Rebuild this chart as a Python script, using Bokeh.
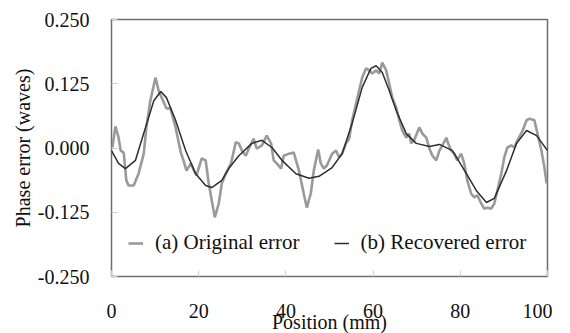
from bokeh.plotting import figure
from bokeh.models import FixedTicker, PrintfTickFormatter, Range1d, Legend, LegendItem
from bokeh.embed import file_html
from bokeh.resources import INLINE

orig_x = [0.2, 0.9, 1.6, 2.1, 2.8, 3.4, 3.9, 5.1, 6.2, 7.4, 8.0, 8.9, 10.1, 10.8, 11.5, 12.6, 13.5, 14.7, 15.9, 16.5,
          17.2, 18.2, 18.9, 19.5, 20.7, 21.6, 22.3, 23.7, 24.6, 25.3, 26.2, 27.4, 28.5, 29.2, 29.9, 30.8, 31.5, 32.6,
          33.3, 34.5, 35.6, 36.6, 37.2, 37.9, 38.9, 39.5, 40.7, 41.8, 43.0, 44.1, 44.8, 45.7, 46.4, 47.4, 48.0, 48.7,
          49.4, 50.6, 51.5, 52.2, 52.9, 53.8, 54.5, 55.2, 56.1, 56.8, 57.5, 58.4, 59.1, 59.8, 60.7, 61.4, 62.1, 63.0,
          63.7, 64.4, 65.3, 66.0, 66.7, 67.6, 68.3, 68.7, 69.4, 70.6, 71.3, 72.2, 72.9, 73.6, 74.5, 75.2, 75.9, 76.8,
          77.2, 77.9, 78.6, 79.3, 80.2, 80.9, 81.6, 82.5, 83.2, 83.9, 84.8, 85.5, 86.2, 87.1, 87.8, 88.5, 89.4, 90.1,
          90.8, 91.7, 92.4, 93.1, 94.3, 95.2, 95.9, 97.0, 97.7, 98.6, 99.3, 99.8]
orig_y = [0.001, 0.042, 0.021, -0.005, -0.009, -0.063, -0.073, -0.073, -0.050, -0.011, 0.040, 0.092, 0.137, 0.112,
          0.098, 0.077, 0.077, 0.040, -0.009, -0.024, -0.044, -0.030, -0.044, -0.053, -0.020, -0.024, -0.069, -0.135,
          -0.108, -0.069, -0.050, -0.030, 0.011, 0.009, -0.005, -0.015, -0.001, 0.018, -0.001, 0.005, 0.024, 0.009,
          -0.024, -0.030, -0.040, -0.015, -0.011, -0.009, -0.044, -0.089, -0.116, -0.089, -0.044, -0.003, -0.030,
          -0.040, -0.034, -0.011, -0.005, -0.018, -0.011, 0.009, 0.018, 0.054, 0.087, 0.112, 0.137, 0.155, 0.151,
          0.145, 0.151, 0.145, 0.166, 0.151, 0.125, 0.098, 0.079, 0.054, 0.034, 0.020, 0.028, 0.009, 0.015, 0.040,
          0.028, 0.020, -0.001, -0.015, -0.024, -0.005, 0.005, 0.020, 0.009, -0.005, -0.011, -0.024, -0.011, -0.030,
          -0.063, -0.089, -0.096, -0.092, -0.108, -0.118, -0.116, -0.118, -0.108, -0.083, -0.050, -0.018, 0.001,
          0.005, 0.001, 0.015, 0.034, 0.054, 0.057, 0.054, 0.028, -0.005, -0.038, -0.069]

rec_x = [0, 1.6, 3.2, 5.5, 7.8, 9.7, 11.3, 12.6, 14.7, 17.0, 19.3, 21.6, 23.0, 25.3, 26.9, 29.2, 32.2, 34.5, 36.8,
         39.1, 42.3, 45.3, 47.6, 50.6, 52.9, 55.2, 57.5, 59.5, 60.7, 62.1, 63.7, 65.3, 67.6, 69.9, 72.9, 75.2, 78.2,
         81.4, 83.7, 86.0, 87.8, 90.6, 92.9, 95.2, 97.5, 100]
rec_y = [-0.005, -0.030, -0.040, -0.024, 0.040, 0.092, 0.110, 0.098, 0.054, -0.005, -0.050, -0.073, -0.077, -0.063,
         -0.040, -0.015, 0.009, 0.015, 0.001, -0.024, -0.050, -0.059, -0.055, -0.038, -0.011, 0.048, 0.118, 0.155,
         0.160, 0.147, 0.112, 0.073, 0.028, 0.009, 0.003, 0.007, -0.005, -0.050, -0.083, -0.106, -0.098, -0.044,
         0.009, 0.034, 0.024, -0.005]

x_ticks = [0, 20, 40, 60, 80, 100]
y_ticks = [-0.25, -0.125, 0.0, 0.125, 0.25]
labels = ["(a) Original error", "(b) Recovered error"]

FONT = "'Liberation Serif', 'Times New Roman', serif"
FS = "20px"

p = figure(width=570, height=333, output_backend="svg", toolbar_location=None,
           x_range=Range1d(0, 100), y_range=Range1d(-0.25, 0.25),
           frame_width=436, frame_height=257,
           min_border_left=111, min_border_right=5, min_border_top=19, min_border_bottom=5)
p.background_fill_color = "white"
p.border_fill_color = "white"
p.outline_line_color = "#6e6e6e"
p.outline_line_width = 1.5
p.xgrid.visible = False
p.ygrid.visible = False

for ax in (p.xaxis, p.yaxis):
    ax.axis_line_color = None
    ax.major_tick_in = 6
    ax.major_tick_out = 0
    ax.minor_tick_line_color = None
    ax.major_tick_line_color = "#d0d0d0"
    ax.major_label_text_font = FONT
    ax.major_label_text_font_style = "normal"
    ax.major_label_text_font_size = FS
    ax.major_label_text_color = "#111111"
    ax.axis_label_text_font = FONT
    ax.axis_label_text_font_size = FS
    ax.axis_label_text_font_style = "normal"
    ax.axis_label_text_color = "#111111"

p.xaxis.ticker = FixedTicker(ticks=x_ticks)
p.yaxis.ticker = FixedTicker(ticks=y_ticks)
p.yaxis.formatter = PrintfTickFormatter(format="%.3f")
p.xaxis.major_label_standoff = 27
p.yaxis.major_label_standoff = 22
p.xaxis.axis_label = "Position (mm)"
p.yaxis.axis_label = "Phase error (waves)"
p.xaxis.axis_label_standoff = -10
p.yaxis.axis_label_standoff = 1

r1 = p.line(orig_x, orig_y, line_color="#9a9a9a", line_width=2.6)
r2 = p.line(rec_x, rec_y, line_color="#2e2e2e", line_width=1.5)

legend = Legend(items=[LegendItem(label=labels[0], renderers=[r1]),
                       LegendItem(label=labels[1], renderers=[r2])],
                orientation="horizontal", location=(17, 21))
legend.border_line_color = None
legend.background_fill_alpha = 0
legend.label_text_font = FONT
legend.label_text_font_style = "normal"
legend.label_text_font_size = "21px"
legend.label_text_color = "#111111"
legend.glyph_width = 15
legend.label_standoff = 12
legend.spacing = 34
legend.padding = 10
p.add_layout(legend, "center")

open("out.html", "w").write(file_html(p, INLINE))
